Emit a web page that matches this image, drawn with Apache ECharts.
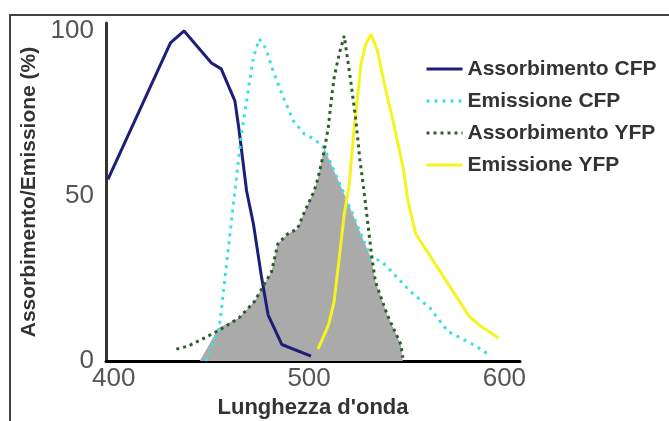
<!DOCTYPE html>
<html>
<head>
<meta charset="utf-8">
<script src="https://cdn.jsdelivr.net/npm/echarts@6/dist/echarts.min.js"></script>
<style>
    html, body { margin: 0; padding: 0; background: #fff; }
    #fretChart { width: 669px; height: 421px; }
</style>
</head>
<body>
<div id="fretChart"></div>
<script>
var fretChart = echarts.init(document.getElementById('fretChart'));

// valori: [lunghezza d'onda, %]
var assorbimentoCFP = [[397,55],[429,96.4],[436,100],[450,90.3],[455,88.5],[462,78.8],[464,70.6],[468,51.5],[471.5,41.5],[475.5,26],[479,14],[486,5],[501,1.5]];
var emissioneCFP = [[447,0],[454,10],[462,51.5],[465.4,68.8],[469,82.7],[471.5,92],[474.5,97.6],[478,94.5],[481,88.8],[486,81],[492,72.7],[497.5,68.8],[502.6,67.3],[507.7,64.5],[518,50.6],[531.7,31.2],[537,30.3],[552,21],[562,16],[571,9],[584,5],[592,2]];
var assorbimentoYFP = [[432,3.6],[438,4.5],[446.5,7],[455,9.7],[464,13],[472,18],[480.7,27],[484,35.5],[489,38.5],[494,40],[497.5,45],[502.6,51.5],[504.6,55.5],[507.7,63.6],[509.8,70.6],[511.3,78.8],[512.8,85.8],[515.4,93],[518,98.5],[521.5,84],[524,72.7],[526,61],[528,52],[530,42],[532,32],[534,24],[540,14],[547,5],[548,1]];
var emissioneYFP = [[504.6,3.6],[510,11],[512.8,18],[515.4,31],[518,44.5],[520.5,53],[523,70],[526.6,90],[529,96],[531.7,99],[535,94],[539,82.7],[543,72.7],[548.5,57.6],[550.6,48.5],[554.6,38.5],[582,13.5],[588,10.5],[597,7]];
// zona grigia di sovrapposizione
var sovrapposizione = [[444,0],[453.6,10],[464,13],[472,18],[480.7,27],[484,35.5],[489,38.5],[494,40],[497.5,45],[502.6,51.5],[504.6,55.5],[507.7,64.5],[518,50.6],[531.7,31.2],[534,24],[540,14],[547,5],[548,0]];

var xTicks = [400, 500, 600];
var yTicks = [0, 50, 100];
var nomiSerie = ['Assorbimento CFP', 'Emissione CFP', 'Assorbimento YFP', 'Emissione YFP'];

var fretOption = {
    animation: false,
    backgroundColor: '#fff',
    textStyle: { fontFamily: 'Liberation Sans' },
    graphic: [{
        type: 'polyline',
        shape: { points: [[10, 421], [10, 15], [669, 15]] },
        style: { stroke: '#444', lineWidth: 2, fill: null }
    }],
    legend: {
        data: nomiSerie,
        orient: 'vertical',
        left: 420,
        top: 53,
        itemWidth: 36,
        itemHeight: 14,
        itemGap: 10,
        itemTextGap: 12,
        itemStyle: { opacity: 0 },
        lineStyle: { width: 3 },
        textStyle: { fontSize: 21, fontWeight: 'bold', color: '#333', lineHeight: 22 }
    },
    grid: {
        left: 106,
        right: 149,
        top: 23,
        bottom: 60,
        outerBoundsMode: 'none'
    },
    xAxis: {
        type: 'value',
        min: 396,
        max: 608,
        name: "Lunghezza d'onda",
        nameLocation: 'middle',
        nameGap: 36,
        nameTextStyle: { fontSize: 22, fontWeight: 'bold', color: '#333' },
        axisLine: { lineStyle: { color: '#000', width: 3 } },
        axisTick: { show: false },
        splitLine: { show: false },
        axisLabel: { customValues: xTicks, fontSize: 26, color: '#555', margin: 5 }
    },
    yAxis: {
        type: 'value',
        min: 0,
        max: 102.4,
        name: 'Assorbimento/Emissione (%)',
        nameLocation: 'middle',
        nameRotate: 90,
        nameGap: 59,
        nameTextStyle: { fontSize: 21, fontWeight: 'bold', color: '#333' },
        axisLine: { show: true, lineStyle: { color: '#333', width: 3 } },
        axisTick: { show: false },
        splitLine: { show: false },
        axisLabel: { customValues: yTicks, fontSize: 26, color: '#555', margin: 12 }
    },
    series: [{
        name: 'sovrapposizione',
        type: 'line',
        data: sovrapposizione,
        symbol: 'none',
        lineStyle: { width: 0 },
        areaStyle: { color: '#aaaaaa', opacity: 1 },
        z: 1
    }, {
        name: 'Assorbimento CFP',
        type: 'line',
        data: assorbimentoCFP,
        symbol: 'none',
        lineStyle: { color: '#1e1e78', width: 3 },
        itemStyle: { color: '#1e1e78' },
        z: 3
    }, {
        name: 'Emissione CFP',
        type: 'line',
        data: emissioneCFP,
        symbol: 'none',
        lineStyle: { color: '#3fe0e0', width: 3, type: [3, 5] },
        itemStyle: { color: '#3fe0e0' },
        z: 3
    }, {
        name: 'Assorbimento YFP',
        type: 'line',
        data: assorbimentoYFP,
        symbol: 'none',
        lineStyle: { color: '#2e5e2e', width: 3, type: [3, 4] },
        itemStyle: { color: '#2e5e2e' },
        z: 4
    }, {
        name: 'Emissione YFP',
        type: 'line',
        data: emissioneYFP,
        symbol: 'none',
        lineStyle: { color: '#f5f51e', width: 3 },
        itemStyle: { color: '#f5f51e' },
        z: 3
    }]
};

fretChart.setOption(fretOption);
</script>
</body>
</html>
